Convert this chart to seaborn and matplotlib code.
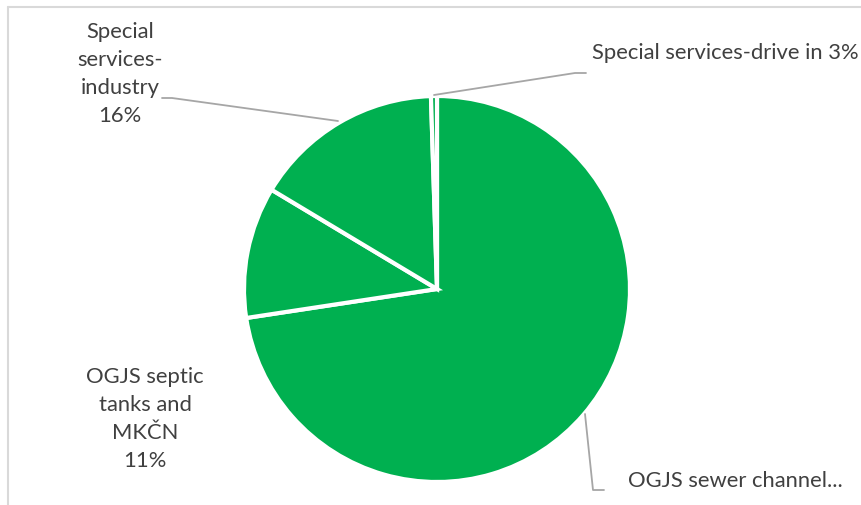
import matplotlib
matplotlib.use("Agg")
import matplotlib.pyplot as plt
import seaborn as sns
from matplotlib.lines import Line2D

sns.set_theme(style="white")
plt.rcParams['font.family'] = ['Lato', 'DejaVu Sans']

categories = ["OGJS sewer channel...", "OGJS septic tanks and MKČN",
              "Special services-industry", "Special services-drive in"]
values = [72.6, 11.0, 15.9, 0.5]
label_texts = ["OGJS sewer channel...", "OGJS septic\ntanks and\nMKČN\n11%",
               "Special\nservices-\nindustry\n16%", "Special services-drive in 3%"]

W, H = 861, 506
fig = plt.figure(figsize=(W / 100, H / 100), dpi=100)
ax = fig.add_axes([0, 0, 1, 1])

green = "#00B050"
ax.pie(values, colors=[green] * len(values), startangle=90, counterclock=False,
       center=(437, H - 290), radius=193,
       wedgeprops=dict(edgecolor="white", linewidth=3))
ax.set_xlim(0, W)
ax.set_ylim(0, H)
ax.set_aspect("equal")
ax.axis("off")

def py(y):
    return H - y

txt_color = "#404040"
line_color = "#A6A6A6"
fs = 15.8

# Labels
ax.text(628, py(481), label_texts[0], ha="left", va="center", fontsize=fs, color=txt_color)
ax.text(145, py(419), label_texts[1], ha="center", va="center", fontsize=fs,
        color=txt_color, linespacing=1.5)
ax.text(120, py(74), label_texts[2], ha="center", va="center", fontsize=fs,
        color=txt_color, linespacing=1.5)
ax.text(592, py(53), label_texts[3], ha="left", va="center", fontsize=fs, color=txt_color)

# Leader lines
ax.plot([585, 593, 604], [py(415), py(491), py(491)], color=line_color, lw=1.3)
ax.plot([162, 172, 338], [py(99), py(99), py(122)], color=line_color, lw=1.3)
ax.plot([434, 575, 586], [py(96), py(74), py(74)], color=line_color, lw=1.3)

# Chart border (light gray)
fig.add_artist(Line2D([7.5 / W, 1], [1 - 7.5 / H, 1 - 7.5 / H], color="#D9D9D9", lw=1.5,
                      transform=fig.transFigure))
fig.add_artist(Line2D([7.5 / W, 7.5 / W], [0, 1 - 7.5 / H], color="#D9D9D9", lw=1.5,
                      transform=fig.transFigure))

fig.savefig("out.png", dpi=100, facecolor="white")
